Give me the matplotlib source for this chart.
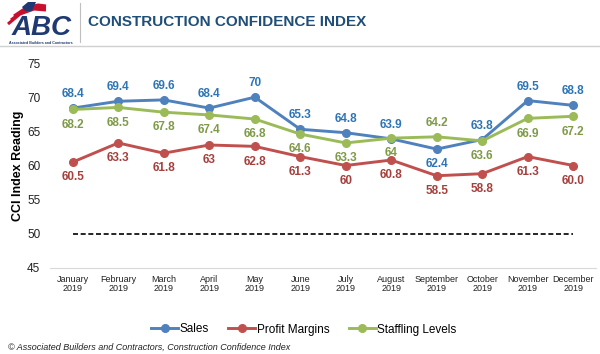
import numpy as np
import matplotlib.pyplot as plt
from matplotlib.lines import Line2D
from matplotlib.patches import Polygon

plt.rcParams['font.family'] = ['Liberation Sans', 'DejaVu Sans']

months = ['January\n2019', 'February\n2019', 'March\n2019', 'April\n2019', 'May\n2019',
          'June\n2019', 'July\n2019', 'August\n2019', 'September\n2019', 'October\n2019',
          'November\n2019', 'December\n2019']
sales = [68.4, 69.4, 69.6, 68.4, 70, 65.3, 64.8, 63.9, 62.4, 63.8, 69.5, 68.8]
profit = [60.5, 63.3, 61.8, 63, 62.8, 61.3, 60, 60.8, 58.5, 58.8, 61.3, 60.0]
staffing = [68.2, 68.5, 67.8, 67.4, 66.8, 64.6, 63.3, 64, 64.2, 63.6, 66.9, 67.2]
sales_txt = ['68.4', '69.4', '69.6', '68.4', '70', '65.3', '64.8', '63.9', '62.4', '63.8', '69.5', '68.8']
profit_txt = ['60.5', '63.3', '61.8', '63', '62.8', '61.3', '60', '60.8', '58.5', '58.8', '61.3', '60.0']
staff_txt = ['68.2', '68.5', '67.8', '67.4', '66.8', '64.6', '63.3', '64', '64.2', '63.6', '66.9', '67.2']
# label above (+1) or below (-1) the point
sales_pos = [1, 1, 1, 1, 1, 1, 1, 1, -1, 1, 1, 1]
profit_pos = [-1] * 12
staff_pos = [-1, -1, -1, -1, -1, -1, -1, -1, 1, -1, -1, -1]
threshold = 50

c_sales, c_profit, c_staff = '#4f81bd', '#c0504d', '#9bbb59'
t_sales, t_profit, t_staff = '#2e75b6', '#a5403d', '#7f9a48'

fig = plt.figure(figsize=(6, 3.54), dpi=100)
W, H = 600, 354
ax = fig.add_axes([50 / W, 1 - 268 / H, 546 / W, 205 / H])

x = np.arange(len(months))
series = [(sales, sales_txt, sales_pos, c_sales, t_sales, 'Sales'),
          (profit, profit_txt, profit_pos, c_profit, t_profit, 'Profit Margins'),
          (staffing, staff_txt, staff_pos, c_staff, t_staff, 'Staffling Levels')]
handles = []
for vals, txt, pos, col, tcol, name in series:
    h, = ax.plot(x, vals, color=col, lw=2.1, marker='o', ms=5.5, label=name, zorder=3)
    handles.append(h)
    for xi, v, t, p in zip(x, vals, txt, pos):
        off = 10 if p > 0 else -11
        ax.annotate(t, (xi, v), xytext=(0, off), textcoords='offset points',
                    ha='center', va='center', color=tcol, fontsize=8.5, fontweight='bold')

ax.plot([x[0], x[-1]], [threshold, threshold], color='black', lw=1.2, ls=(0, (3, 1.6)), zorder=2)

ax.set_xlim(-0.5, len(months) - 0.5)
ax.set_ylim(45, 75)
ax.set_yticks(range(45, 76, 5))
ax.set_xticks(x)
ax.set_xticklabels(months, fontsize=6.5, color='#222222', linespacing=1.05)
ax.tick_params(axis='y', length=0, labelsize=8.5, pad=7, colors='#222222')
ax.tick_params(axis='x', length=0, pad=5)
for s in ['top', 'right', 'left']:
    ax.spines[s].set_visible(False)
ax.spines['bottom'].set_color('#d9d9d9')
ax.set_ylabel('CCI Index Reading', fontsize=9, fontweight='bold')
ax.yaxis.set_label_coords(-26 / 546, 0.5)

ax.legend(handles=handles, loc='center', bbox_to_anchor=(0.465, -0.30), ncol=3,
          frameon=False, fontsize=8.5, handlelength=2.3, columnspacing=1.6, handletextpad=0.15)

# header
fig.text(88 / W, 1 - 22 / H, 'CONSTRUCTION CONFIDENCE INDEX', fontsize=11, fontweight='bold',
         color='#1f4e79', va='center', ha='left')
fig.add_artist(Line2D([80 / W, 80 / W], [1 - 42 / H, 1 - 3 / H], color='#bfbfbf', lw=0.8))
fig.add_artist(Line2D([0, 1], [1 - 46 / H, 1 - 46 / H], color='#d0d0d0', lw=1))


def px(pts):
    return [[a / W, 1 - b / H] for a, b in pts]


# simple logo: flag swoosh + ABC
for i in range(3):
    pts = np.array(px([(8 + 3 * i, 24 - 4 * i), (20 + 3 * i, 14 - 3 * i), (34 + 2 * i, 9 - 2 * i),
                       (46, 10 - 2 * i)]))
    fig.add_artist(Line2D(pts[:, 0], pts[:, 1], color='#c8102e', lw=2.2,
                          solid_capstyle='butt', zorder=1))
fig.add_artist(Polygon(px([(22, 7), (28, 2), (36, 2), (32, 11), (25, 11)]),
                       transform=fig.transFigure, color='#1f3a73', lw=0, zorder=1))
fig.text(42 / W, 1 - 35 / H, 'ABC', fontsize=20, fontweight='bold', style='italic',
         color='#1f3a73', ha='center', va='baseline', zorder=2)
fig.text(41 / W, 1 - 42.5 / H, 'Associated Builders and Contractors', fontsize=2.6,
         fontweight='bold', color='#1f3a73', ha='center', va='center')

fig.text(8 / W, 1 - 347 / H, '\u00a9 Associated Builders and Contractors, Construction Confidence Index',
         fontsize=6.5, style='italic', color='#222222', ha='left', va='center')

fig.savefig('out.png', dpi=100)
